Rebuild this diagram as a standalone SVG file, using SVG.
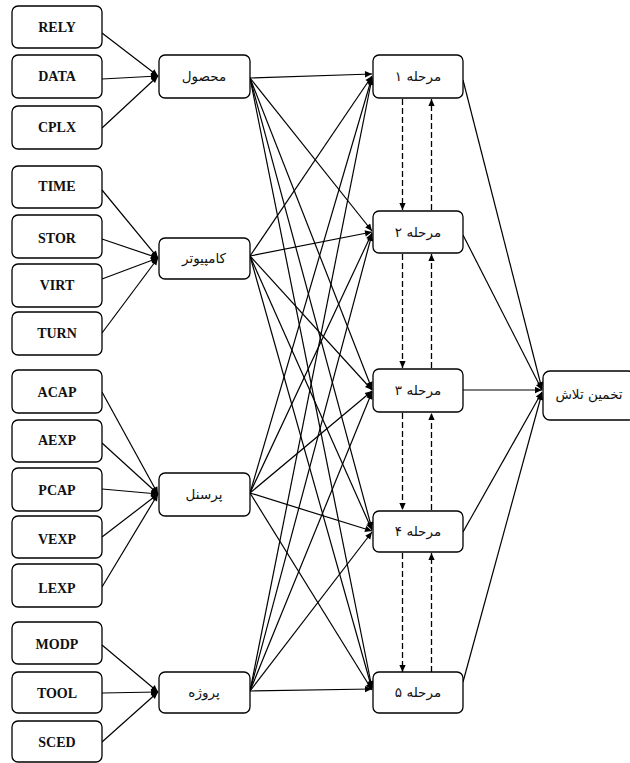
<svg xmlns="http://www.w3.org/2000/svg" width="630" height="763" viewBox="0 0 630 763">
<style>
.box{fill:#fff;stroke:#000;stroke-width:1.3}
.lat{font-family:"Liberation Serif","DejaVu Serif",serif;font-weight:bold;font-size:14px;text-anchor:middle;fill:#111}
.fa{font-family:"DejaVu Sans","Noto Sans",sans-serif;font-size:13.5px;text-anchor:middle;fill:#111}
.c line{stroke:#000;stroke-width:1.2;fill:none;marker-end:url(#ah)}
.c line.d{stroke-dasharray:6,3;stroke-width:1.3}
</style>
<defs>
<marker id="ah" viewBox="0 0 10 10" refX="10" refY="5" markerWidth="8" markerHeight="7" orient="auto" markerUnits="userSpaceOnUse"><path d="M0,0.5 L10,5 L0,9.5 z" fill="#000"/></marker>
</defs>
<rect width="630" height="763" fill="#fff"/>
<g class="c" id="connectors">
<line x1="102" y1="33" x2="158" y2="76"/>
<line x1="102" y1="79" x2="158" y2="76"/>
<line x1="102" y1="128" x2="158" y2="76"/>
<line x1="102" y1="190" x2="158" y2="258"/>
<line x1="102" y1="239" x2="158" y2="258"/>
<line x1="102" y1="279" x2="158" y2="258"/>
<line x1="102" y1="333" x2="158" y2="258"/>
<line x1="102" y1="392" x2="158" y2="494"/>
<line x1="102" y1="443" x2="158" y2="494"/>
<line x1="102" y1="489" x2="158" y2="494"/>
<line x1="102" y1="537" x2="158" y2="494"/>
<line x1="102" y1="587" x2="158" y2="494"/>
<line x1="102" y1="645" x2="158" y2="692"/>
<line x1="102" y1="693" x2="158" y2="692"/>
<line x1="102" y1="742" x2="158" y2="692"/>
<line x1="250" y1="78" x2="372" y2="74"/>
<line x1="250" y1="78" x2="372" y2="231"/>
<line x1="250" y1="78" x2="372" y2="389"/>
<line x1="250" y1="78" x2="372" y2="529"/>
<line x1="250" y1="78" x2="372" y2="688"/>
<line x1="250" y1="256" x2="372" y2="76"/>
<line x1="250" y1="256" x2="372" y2="232"/>
<line x1="250" y1="256" x2="372" y2="390"/>
<line x1="250" y1="256" x2="372" y2="530"/>
<line x1="250" y1="256" x2="372" y2="689"/>
<line x1="250" y1="493" x2="372" y2="77"/>
<line x1="250" y1="493" x2="372" y2="233"/>
<line x1="250" y1="493" x2="372" y2="391"/>
<line x1="250" y1="493" x2="372" y2="531"/>
<line x1="250" y1="493" x2="372" y2="690"/>
<line x1="250" y1="691" x2="372" y2="78"/>
<line x1="250" y1="691" x2="372" y2="234"/>
<line x1="250" y1="691" x2="372" y2="392"/>
<line x1="250" y1="691" x2="372" y2="532"/>
<line x1="250" y1="691" x2="372" y2="689"/>
<line x1="463" y1="80" x2="542" y2="389"/>
<line x1="463" y1="235" x2="542" y2="390"/>
<line x1="463" y1="390" x2="542" y2="390"/>
<line x1="463" y1="532" x2="542" y2="392"/>
<line x1="463" y1="682" x2="542" y2="393"/>
<line class="d" x1="402.5" y1="99" x2="402.5" y2="210"/>
<line class="d" x1="431.5" y1="210" x2="431.5" y2="99"/>
<line class="d" x1="402.5" y1="254" x2="402.5" y2="368"/>
<line class="d" x1="431.5" y1="368" x2="431.5" y2="254"/>
<line class="d" x1="402.5" y1="413" x2="402.5" y2="510"/>
<line class="d" x1="431.5" y1="510" x2="431.5" y2="413"/>
<line class="d" x1="402.5" y1="553" x2="402.5" y2="672"/>
<line class="d" x1="431.5" y1="672" x2="431.5" y2="553"/>
</g>
<g id="n-rely"><rect class="box" x="12" y="6" width="90" height="42" rx="6"/><text class="lat" x="57" y="32">RELY</text></g>
<g id="n-data"><rect class="box" x="12" y="55" width="90" height="43" rx="6"/><text class="lat" x="57" y="81">DATA</text></g>
<g id="n-cplx"><rect class="box" x="12" y="106" width="90" height="43" rx="6"/><text class="lat" x="57" y="132">CPLX</text></g>
<g id="n-time"><rect class="box" x="12" y="166" width="90" height="42" rx="6"/><text class="lat" x="57" y="191">TIME</text></g>
<g id="n-stor"><rect class="box" x="12" y="215" width="90" height="43" rx="6"/><text class="lat" x="57" y="243">STOR</text></g>
<g id="n-virt"><rect class="box" x="12" y="264" width="90" height="43" rx="6"/><text class="lat" x="57" y="290">VIRT</text></g>
<g id="n-turn"><rect class="box" x="12" y="312" width="90" height="43" rx="6"/><text class="lat" x="57" y="338">TURN</text></g>
<g id="n-acap"><rect class="box" x="12" y="370" width="90" height="43" rx="6"/><text class="lat" x="57" y="397">ACAP</text></g>
<g id="n-aexp"><rect class="box" x="12" y="420" width="90" height="42" rx="6"/><text class="lat" x="57" y="445">AEXP</text></g>
<g id="n-pcap"><rect class="box" x="12" y="468" width="90" height="43" rx="6"/><text class="lat" x="57" y="495">PCAP</text></g>
<g id="n-vexp"><rect class="box" x="12" y="516" width="90" height="42" rx="6"/><text class="lat" x="57" y="544">VEXP</text></g>
<g id="n-lexp"><rect class="box" x="12" y="564" width="90" height="43" rx="6"/><text class="lat" x="57" y="593">LEXP</text></g>
<g id="n-modp"><rect class="box" x="12" y="622" width="90" height="42" rx="6"/><text class="lat" x="57" y="649">MODP</text></g>
<g id="n-tool"><rect class="box" x="12" y="672" width="90" height="41" rx="6"/><text class="lat" x="57" y="698">TOOL</text></g>
<g id="n-sced"><rect class="box" x="12" y="721" width="90" height="41" rx="6"/><text class="lat" x="57" y="747">SCED</text></g>
<g id="n-product"><rect class="box" x="159" y="55" width="91" height="43" rx="6"/><text class="fa" x="204" y="81">محصول</text></g>
<g id="n-computer"><rect class="box" x="159" y="238" width="91" height="41" rx="6"/><text class="fa" x="204" y="263">کامپیوتر</text></g>
<g id="n-personnel"><rect class="box" x="159" y="473" width="91" height="43" rx="6"/><text class="fa" x="204" y="499">پرسنل</text></g>
<g id="n-project"><rect class="box" x="159" y="672" width="91" height="41" rx="6"/><text class="fa" x="204" y="697">پروژه</text></g>
<g id="n-s1"><rect class="box" x="373" y="55" width="90" height="43" rx="6"/><text class="fa" x="418" y="81">مرحله ۱</text></g>
<g id="n-s2"><rect class="box" x="373" y="211" width="90" height="42" rx="6"/><text class="fa" x="418" y="237">مرحله ۲</text></g>
<g id="n-s3"><rect class="box" x="373" y="369" width="90" height="43" rx="6"/><text class="fa" x="418" y="395">مرحله ۳</text></g>
<g id="n-s4"><rect class="box" x="373" y="511" width="90" height="41" rx="6"/><text class="fa" x="418" y="536">مرحله ۴</text></g>
<g id="n-s5"><rect class="box" x="373" y="672" width="90" height="41" rx="6"/><text class="fa" x="418" y="697">مرحله ۵</text></g>
<g id="n-effort"><rect class="box" x="543" y="371" width="92" height="49" rx="7"/><text class="fa" x="589" y="399">تخمین تلاش</text></g>
</svg>
